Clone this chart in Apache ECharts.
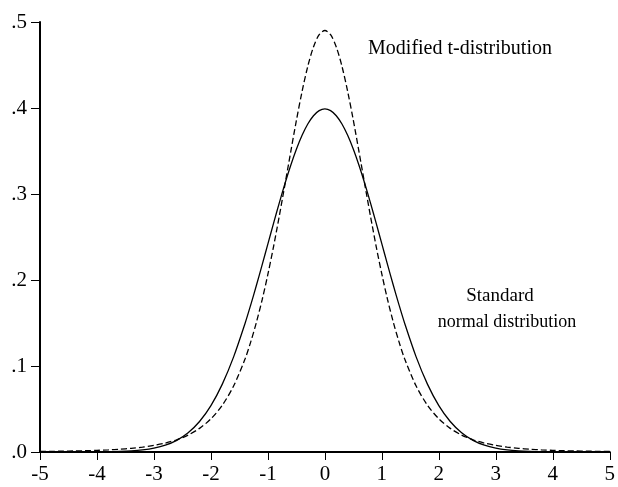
<!DOCTYPE html>
<html>
<head>
<meta charset="utf-8">
<script src="https://cdn.jsdelivr.net/npm/echarts@6/dist/echarts.min.js"></script>
<style>html,body{margin:0;padding:0;background:#fff;}#c{width:618px;height:487px;}</style>
</head>
<body>
<div id="c"></div>
<script>
// x positions for the right half; left half mirrors them
var xHalf = [0,0.1,0.2,0.3,0.4,0.5,0.6,0.7,0.8,0.9,1.0,1.1,1.2,1.3,1.4,1.6,1.8,2.0,2.2,2.4,2.6,2.8,3.0,3.2,3.4,3.6,3.8,4.0,4.2,4.4,4.6,4.8,5.0];
// standard normal density read at xHalf
var normalHalf = [0.39894,0.39695,0.39104,0.38139,0.36827,0.35207,0.33322,0.31225,0.28969,0.26609,0.24197,0.21785,0.19419,0.17137,0.14973,0.11092,0.07895,0.05399,0.03547,0.02239,0.01358,0.00792,0.00443,0.00238,0.00123,0.00061,0.00029,0.00013,0.00006,0.00002,0.00001,0.00000,0.00000];
// modified t-distribution density read at xHalf
var modTHalf = [0.4901,0.4852,0.4710,0.4485,0.4193,0.3855,0.3488,0.3113,0.2744,0.2392,0.2067,0.1773,0.1512,0.1283,0.1084,0.07698,0.05446,0.03858,0.02746,0.01968,0.01423,0.01039,0.007657,0.005701,0.004287,0.003255,0.002495,0.001929,0.001505,0.001184,0.000938,0.000749,0.000603];
var xTicks = [-5,-4,-3,-2,-1,0,1,2,3,4,5];
var yTicks = ['.0','.1','.2','.3','.4','.5'];
var labelModT = 'Modified t-distribution';
var labelStd1 = 'Standard';
var labelStd2 = 'normal distribution';

function mirror(xs, ys){
  var out = [];
  for (var i = xs.length - 1; i > 0; i--) out.push([-xs[i], ys[i]]);
  for (var j = 0; j < xs.length; j++) out.push([xs[j], ys[j]]);
  return out;
}

var FONT = '"Liberation Serif","Times New Roman",serif';
var chart = echarts.init(document.getElementById('c'), null, {renderer:'canvas'});
chart.setOption({
  animation:false,
  backgroundColor:'#fff',
  grid:{left:40,right:5,top:22,bottom:35,containLabel:false},
  xAxis:{
    type:'value',min:-5,max:5,interval:1,
    axisLine:{onZero:false,lineStyle:{color:'#000',width:2}},
    axisTick:{show:true,length:8,lineStyle:{color:'#000',width:1}},
    axisLabel:{color:'#000',fontFamily:FONT,fontSize:21,margin:12,
      formatter:function(v){return String(v);}},
    splitLine:{show:false}
  },
  yAxis:{
    type:'value',min:0,max:0.5,interval:0.1,
    axisLine:{show:true,onZero:false,lineStyle:{color:'#000',width:2}},
    axisTick:{show:true,length:9,lineStyle:{color:'#000',width:1}},
    axisLabel:{color:'#000',fontFamily:FONT,fontSize:21,margin:13,
      formatter:function(v){return yTicks[Math.round(v*10)];}},
    splitLine:{show:false}
  },
  series:[
    {type:'line',data:mirror(xHalf,normalHalf),smooth:0.3,symbol:'none',
     lineStyle:{color:'#000',width:1.3,type:'solid'},z:3},
    {type:'line',data:mirror(xHalf,modTHalf),smooth:0.3,symbol:'none',
     lineStyle:{color:'#000',width:1.3,type:[6,3]},z:3}
  ],
  graphic:[
    {type:'text',x:460,y:49,style:{text:labelModT,font:'20px '+FONT,fill:'#000',align:'center',verticalAlign:'middle'}},
    {type:'text',x:500,y:296,style:{text:labelStd1,font:'19px '+FONT,fill:'#000',align:'center',verticalAlign:'middle'}},
    {type:'text',x:507,y:322,style:{text:labelStd2,font:'18px '+FONT,fill:'#000',align:'center',verticalAlign:'middle'}}
  ]
});
</script>
</body>
</html>
